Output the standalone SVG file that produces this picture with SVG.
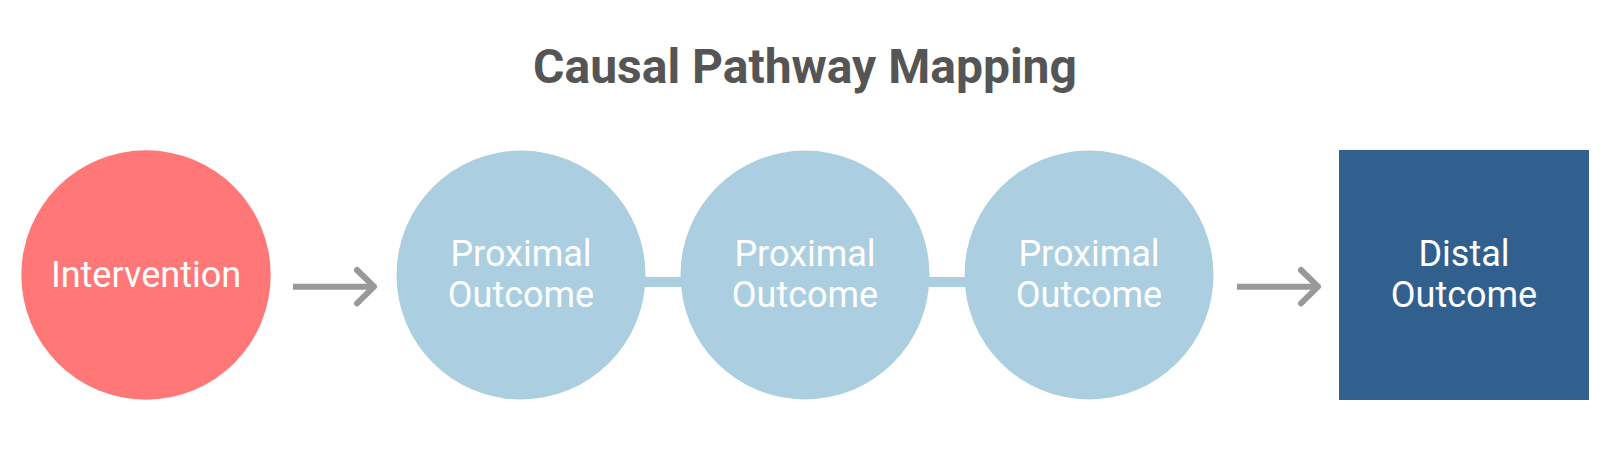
<svg xmlns="http://www.w3.org/2000/svg" width="1610" height="449" viewBox="0 0 1610 449">
<style>
.lbl{font-family:Roboto,"Liberation Sans",sans-serif;font-size:36px;fill:#ffffff;text-anchor:middle}
.title{font-family:Roboto,"Liberation Sans",sans-serif;font-size:48px;font-weight:bold;fill:#555555;text-anchor:middle}
.arrow{fill:none;stroke:#999999;stroke-width:6}
.head{fill:none;stroke:#999999;stroke-width:6;stroke-linecap:round;stroke-linejoin:round}
.bar{fill:#abcfe0}
.prox{fill:#abcfe0}
</style>
<rect width="1610" height="449" fill="#ffffff"/>
<text class="title" x="805" y="83">Causal Pathway Mapping</text>
<g id="connectors">
<line class="arrow" x1="293" y1="286.7" x2="373" y2="286.7"/>
<polyline class="head" points="357,270 374,286.7 357,303.4"/>
<rect class="bar" x="640" y="277" width="46" height="10"/>
<rect class="bar" x="924" y="277" width="46" height="10"/>
<line class="arrow" x1="1237" y1="286.7" x2="1317" y2="286.7"/>
<polyline class="head" points="1301,270 1318,286.7 1301,303.4"/>
</g>
<g id="intervention">
<circle cx="146" cy="275" r="124.7" fill="#ff7777"/>
<text class="lbl" x="146" y="286.5">Intervention</text>
</g>
<g id="proximal1">
<circle class="prox" cx="521" cy="275" r="124.5"/>
<text class="lbl" x="521" y="266">Proximal</text>
<text class="lbl" x="521" y="307">Outcome</text>
</g>
<g id="proximal2">
<circle class="prox" cx="805" cy="275" r="124.5"/>
<text class="lbl" x="805" y="266">Proximal</text>
<text class="lbl" x="805" y="307">Outcome</text>
</g>
<g id="proximal3">
<circle class="prox" cx="1089" cy="275" r="124.5"/>
<text class="lbl" x="1089" y="266">Proximal</text>
<text class="lbl" x="1089" y="307">Outcome</text>
</g>
<g id="distal">
<rect x="1339" y="150" width="250" height="250" fill="#31608f"/>
<text class="lbl" x="1464" y="266">Distal</text>
<text class="lbl" x="1464" y="307">Outcome</text>
</g>
</svg>
